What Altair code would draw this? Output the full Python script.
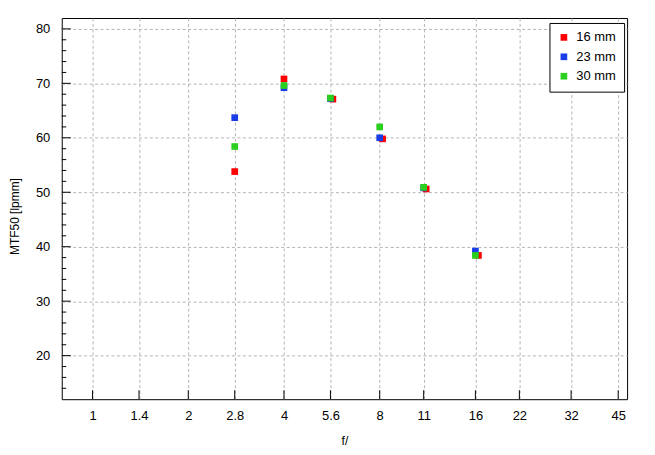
import altair as alt
import pandas as pd

# ---- data ----
fstops = [1, 1.4, 2, 2.8, 4, 5.6, 8, 11, 16, 22, 32, 45]
y_major = [20, 30, 40, 50, 60, 70, 80]
y_minor = [14, 16, 18, 22, 24, 26, 28, 32, 34, 36, 38, 42, 44, 46, 48,
           52, 54, 56, 58, 62, 64, 66, 68, 72, 74, 76, 78]

series = ["16 mm", "23 mm", "30 mm"]
colors = ["#ff0000", "#1a3de8", "#2bcf1e"]

f_16 = [2.8, 4, 5.7, 8.17, 11.2, 16.35]
mtf_16 = [53.8, 70.8, 67.1, 59.8, 50.6, 38.4]
f_23 = [2.8, 4, 5.6, 8, 11, 16]
mtf_23 = [63.7, 69.2, 67.2, 60.0, 50.8, 39.2]
f_30 = [2.8, 4, 5.6, 8, 11, 16]
mtf_30 = [58.4, 69.6, 67.3, 62.0, 50.9, 38.4]

rows = []
for name, fs, ms in [("16 mm", f_16, mtf_16), ("23 mm", f_23, mtf_23), ("30 mm", f_30, mtf_30)]:
    for f, m in zip(fs, ms):
        rows.append({"f": f, "m": m, "lens": name})
df = pd.DataFrame(rows)

W, H = 568, 383
FONT = "Liberation Sans"

xscale = alt.Scale(type="log", domain=[0.8, 48], nice=False)
yscale = alt.Scale(domain=[12, 82], nice=False, zero=False)

xaxis = alt.Axis(values=fstops, labelExpr="'' + datum.value", grid=True,
                 gridColor="#b4b4b4", gridDash=[3, 2.5], gridWidth=1,
                 ticks=False, tickSize=0, domain=False,
                 labelFont=FONT, labelFontSize=13, labelColor="black",
                 labelPadding=10, labelFlush=False,
                 title="f/", titleFont=FONT, titleFontSize=12,
                 titleFontWeight="normal", titleColor="black",
                 titleBaseline="middle", titleY=42)
yaxis = alt.Axis(values=y_major, grid=True,
                 gridColor="#b4b4b4", gridDash=[3, 2.5], gridWidth=1,
                 ticks=False, tickSize=0, domain=False,
                 labelFont=FONT, labelFontSize=13, labelColor="black",
                 labelPadding=12, labelFlush=False,
                 title="MTF50 [lpmm]", titleFont=FONT, titleFontSize=12,
                 titleFontWeight="normal", titleColor="black",
                 titleAngle=270, titleBaseline="middle", titleAlign="center",
                 titleX=-47, titleY=199)

X = alt.X("f:Q", scale=xscale, axis=xaxis)
Y = alt.Y("m:Q", scale=yscale, axis=yaxis)

points = alt.Chart(df).mark_square(size=45, opacity=1, filled=True).encode(
    x=X, y=Y,
    color=alt.Color("lens:N",
                    scale=alt.Scale(domain=series, range=colors),
                    legend=alt.Legend(orient="none", legendX=490, legendY=5,
                                      title=None, symbolType="square",
                                      symbolSize=45, symbolStrokeWidth=0,
                                      labelFont=FONT, labelFontSize=13,
                                      labelColor="black",
                                      padding=8, rowPadding=5.5, labelOffset=6,
                                      strokeColor="black", fillColor="white",
                                      cornerRadius=0)),
)

xticks = alt.Chart(pd.DataFrame({"f": fstops})).mark_rule(
    color="black", strokeWidth=1).encode(x=X, y=alt.value(H), y2=alt.value(H - 9))
yticks = alt.Chart(pd.DataFrame({"m": y_major})).mark_rule(
    color="black", strokeWidth=1).encode(y=Y, x=alt.value(0), x2=alt.value(9))
yminor = alt.Chart(pd.DataFrame({"m": y_minor})).mark_rule(
    color="black", strokeWidth=1).encode(y=Y, x=alt.value(0), x2=alt.value(4.5))

chart = alt.layer(xticks, yticks, yminor, points).properties(
    width=W, height=H,
    autosize=alt.AutoSizeParams(type="none"),
    padding={"left": 54, "top": 9, "right": 20, "bottom": 50},
    background="white",
).configure_view(stroke="black", strokeWidth=1)

chart.save("out.html", embed_options={"renderer": "svg", "actions": False})
